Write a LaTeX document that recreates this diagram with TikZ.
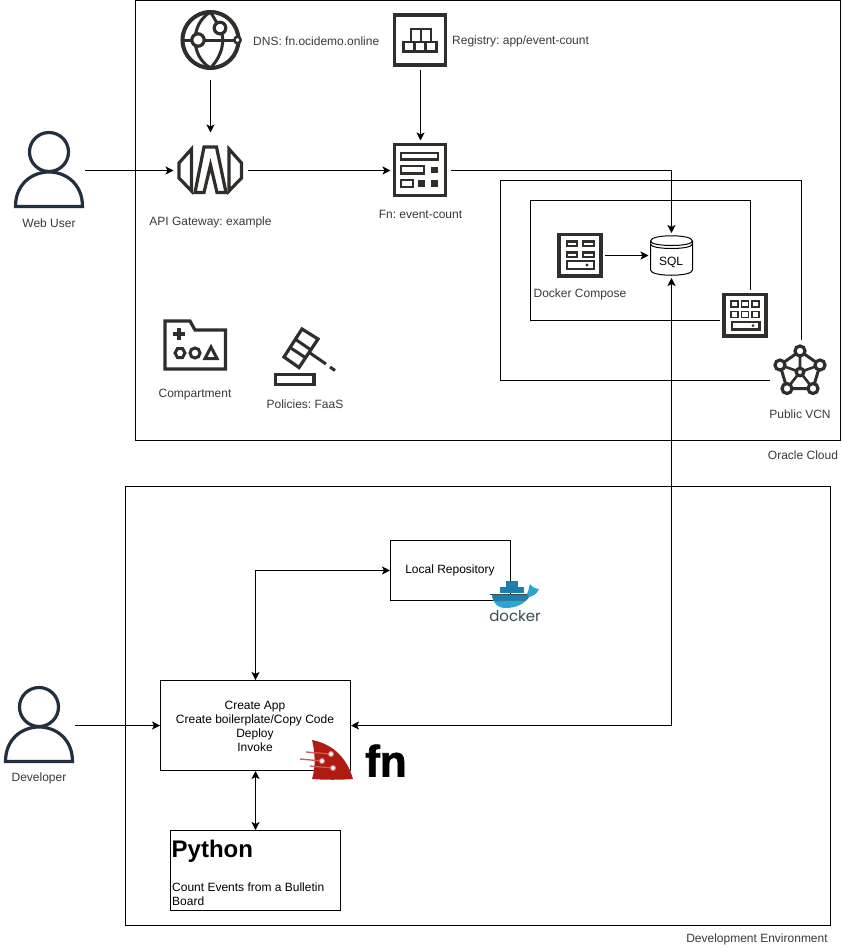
\documentclass[tikz,border=0pt]{standalone}
\usepackage{fontspec}
\setmainfont{Liberation Sans}
\newfontfamily\dockerfont{Poppins}
\newfontfamily\fnfont[FakeBold=1.6]{Liberation Sans Bold}
\AtBeginDocument{\frenchspacing}
\usetikzlibrary{arrows.meta}
\definecolor{ink}{HTML}{312D2A}
\definecolor{usr}{HTML}{232F3E}
\definecolor{lab}{HTML}{3A3A3A}
\definecolor{fnred}{HTML}{AE1B12}
\definecolor{fnpink}{HTML}{D9706A}
\definecolor{dk}{HTML}{1F7FA8}
\definecolor{dkl}{HTML}{2FA3D1}
\definecolor{dkd}{HTML}{394D54}
\tikzset{
  box/.style={draw=black,line width=1pt,fill=white,inner sep=0pt},
  frame/.style={draw=black,line width=1pt},
  lbl/.style={font=\fontsize{12}{14}\selectfont,text=lab,inner sep=0pt},
  txt/.style={font=\fontsize{12}{14}\selectfont,text=black,inner sep=0pt},
  conn/.style={draw=black,line width=1pt,-{Stealth[length=8pt,width=8pt,inset=2pt]}},
  conn2/.style={draw=black,line width=1pt,{Stealth[length=8pt,width=8pt,inset=2pt]}-{Stealth[length=8pt,width=8pt,inset=2pt]}},
  hit/.style={inner sep=0pt,outer sep=0pt,minimum width=#1},
  ico/.style={draw=ink,line width=3.2pt,fill=white,miter limit=10},
  thin/.style={draw=ink,line width=2.6pt},
  sol/.style={fill=ink,draw=none},
}
\begin{document}
\begin{tikzpicture}[x=1pt,y=-1pt]
\useasboundingbox (0,0) rectangle (841,948);
\fill[white] (0,0) rectangle (841,948);
% frames
\draw[frame] (135.5,0.5) rectangle (840.5,440.5);
\draw[frame] (125.5,486.5) rectangle (830.5,925.5);
% anchor nodes
\node[hit=72pt,minimum height=76pt] (webuser) at (49,170.5) {};
\node[hit=72pt,minimum height=76pt] (developer) at (39,725.5) {};
\node[hit=62pt,minimum height=80pt] (dns) at (210.5,40) {};
\node[hit=74pt,minimum height=76pt] (gateway) at (210.5,170.5) {};
\node[hit=60pt,minimum height=60pt] (registry) at (420.5,40) {};
\node[hit=60pt,minimum height=60pt] (fnc) at (420.5,170.5) {};
\node[hit=50pt,minimum height=50pt] (compose) at (580,255.5) {};
\node[hit=46pt,minimum height=45pt] (sqlhit) at (671.5,255.5) {};
\coordinate (vcnA) at (770,380.5);
\coordinate (vcnB) at (801,340);
\coordinate (subA) at (720,320.5);
\coordinate (subB) at (750.5,290);
% VCN and subnet outlines
\draw[frame] (vcnA) -- (500.5,380.5) -- (500.5,180.5) -- (801,180.5) -- (vcnB);
\draw[frame] (subA) -- (530.5,320.5) -- (530.5,200.5) -- (750.5,200.5) -- (subB);
% boxes
\node[box,minimum width=120pt,minimum height=60pt] (repo) at (450.5,570.5) {};
\node[txt] at (450,570.5) {Local Repository};
\node[box,minimum width=190pt,minimum height=90pt] (create) at (255.5,725.5) {};
\node[txt,align=center] at (255,726) {Create App\\Create boilerplate/Copy Code\\Deploy\\Invoke};
\node[box,minimum width=170pt,minimum height=80pt] (python) at (255.5,870.5) {};
\node[anchor=west,inner sep=0pt,font=\fontsize{24}{28}\selectfont\bfseries] at (171.5,851) {Python};
\node[txt,anchor=north west,align=left] at (172,882.5) {Count Events from a Bulletin\\Board};
% SQL cylinder
\draw[draw=black,line width=1pt,fill=white] (650.5,241) -- (650.5,270) .. controls (650.5,277) and (692.5,277) .. (692.5,270) -- (692.5,241) .. controls (692.5,234) and (650.5,234) .. (650.5,241) -- cycle;
\draw[draw=black,line width=1pt] (650.5,241) .. controls (650.5,247) and (692.5,247) .. (692.5,241);
\draw[draw=black,line width=1pt] (650.5,244) .. controls (650.5,250) and (692.5,250) .. (692.5,244);
\node[txt] (sql) at (671,262) {SQL};
% connectors
\draw[conn] (webuser.east) -- (gateway.west);
\draw[conn] (dns.south) -- (gateway.north);
\draw[conn] (gateway.east) -- (fnc.west);
\draw[conn] (registry.south) -- (fnc.north);
\draw[conn] (fnc.east) -| (sqlhit.north);
\draw[conn] (compose.east) -- (sqlhit.west);
\draw[conn2] (create.east) -| (sqlhit.south);
\draw[conn] (developer.east) -- (create.west);
\draw[conn2] (create.north) |- (repo.west);
\draw[conn2] (create.south) -- (python.north);
% users
\foreach \cx/\cy in {49/132,39/687}{
 \begin{scope}[shift={(\cx,\cy)}]
  \draw[draw=usr,line width=3.2pt,fill=white] (0,20) circle (19.5);
  \draw[draw=usr,line width=3.2pt] (-33.5,74.5) .. controls (-33.5,52) and (-17,40) .. (0,40) .. controls (17,40) and (33.5,52) .. (33.5,74.5) -- cycle;
 \end{scope}
}
% DNS globe
\draw[draw=ink,line width=4pt] (210.5,40) circle (28);
\draw[draw=ink,line width=3pt] (210.5,12) .. controls (190,24) and (190,56) .. (210.5,68);
\draw[draw=ink,line width=3pt] (210.5,12) -- (220,28) .. controls (226,40) and (222,56) .. (210.5,68);
\draw[draw=ink,line width=3pt] (183,40) -- (237,40);
\draw[ico] (198,40) circle (6.2);
\draw[ico] (220,28) circle (5.8);
\draw[ico,line width=2.4pt] (237.5,40) circle (3.2);
% API gateway
\draw[ico] (191.5,149) -- (179,163) -- (179,178) -- (191.5,191) -- cycle;
\draw[ico] (229,149) -- (241.5,163) -- (241.5,178) -- (229,191) -- cycle;
\draw[ico] (204,147) -- (216.5,147) -- (226,192.5) -- (217,192.5) -- (210.5,165) -- (204,192.5) -- (195,192.5) -- cycle;
% Registry
\draw[ico] (394.5,15) rectangle (445.5,65);
\draw[ico,line width=2.6pt] (403.5,42) rectangle (436.5,51.5);
\draw[ico,line width=2.6pt] (411,29) rectangle (431,42);
\draw[thin,line width=2.2pt] (421,29) -- (421,42) (414.5,42) -- (414.5,51.5) (425.5,42) -- (425.5,51.5);
% Fn
\draw[ico] (394.5,144.5) rectangle (445.5,195.5);
\draw[ico,line width=2.6pt] (401,153) rectangle (438,159.5);
\draw[ico,line width=2.6pt] (401,166) rectangle (424,173.5);
\fill[sol] (431,167) rectangle (438,173);
\draw[ico,line width=2.6pt] (401,180) rectangle (413,187);
\fill[sol] (418,180) rectangle (424.5,187);
\fill[sol] (431,180) rectangle (438,187);
% Docker Compose server
\draw[ico] (559,234.5) rectangle (601,276);
\foreach \yy in {240,251}{\fill[sol] (566,\yy) rectangle (578,\yy+7); \fill[sol] (582,\yy) rectangle (595,\yy+7);
 \fill[white] (568,\yy+2.5) rectangle (576,\yy+4.5); \fill[white] (584,\yy+2.5) rectangle (593,\yy+4.5);}
\draw[ico,line width=2.6pt] (567,261) rectangle (594,269);
\fill[sol] (587,265) circle (1.6);
% Compute server
\draw[ico] (724,294.5) rectangle (766,336);
\foreach \yy in {301,311.5}{\foreach \xx in {731,741.5,752}{\draw[thin,line width=1.8pt] (\xx,\yy) rectangle (\xx+7,\yy+6);}}
\draw[ico,line width=2.4pt] (732,322) rectangle (759.5,329.5);
\fill[sol] (753,325.7) circle (1.5);
% VCN
\draw[thin,line width=3pt] (800,351) -- (820,365) -- (813,388.5) -- (787,388.5) -- (780,365) -- cycle;
\draw[thin,line width=2.6pt] (800,372) -- (800,351) (800,372) -- (820,365) (800,372) -- (813,388.5) (800,372) -- (787,388.5) (800,372) -- (780,365);
\foreach \p in {(800,351),(820,365),(813,388.5),(787,388.5),(780,365)}{\draw[ico] \p circle (5);}
\draw[ico] (800,372) circle (3.8);
% Compartment
\draw[ico] (165,321) -- (190,321) -- (195,330) -- (225.5,330) -- (225.5,369) -- (165,369) -- cycle;
\fill[sol] (177,328) rectangle (181,340);
\fill[sol] (173,332) rectangle (185,336);
\draw[ico,line width=3pt] (175,353) -- (177.5,348.5) -- (182.5,348.5) -- (185,353) -- (182.5,357.5) -- (177.5,357.5) -- cycle;
\draw[ico,line width=3pt] (195,353) circle (5);
\draw[ico,line width=3pt] (211,347) -- (217,358.5) -- (205,358.5) -- cycle;
% Policies
\draw[ico] (302,329) -- (318,339) -- (299,367.5) -- (284,357) -- cycle;
\draw[thin,line width=3pt] (295,339) -- (311,350) (290,347.5) -- (306,358);
\draw[thin,line width=3pt] (310,353) -- (326,364);
\draw[thin,line width=3pt] (330,367) -- (335,370.5);
\draw[ico] (275.5,374.5) rectangle (314,384.5);
% Fn logo
\fill[fnred] (312,740) .. controls (333,744) and (347,758) .. (353,779) .. controls (340,780) and (325,780) .. (312,779) .. controls (316,767) and (315,752) .. (312,740) -- cycle;
\draw[fnred!70!white,line width=1.3pt] (306,752) -- (331,754);
\draw[fnred!70!white,line width=1.3pt] (300,759) -- (322,761);
\draw[fnred!70!white,line width=1.3pt] (310,766) -- (333,768);
\foreach \p in {(331,754),(322,761),(333,768)}{\draw[fill=white,draw=fnpink,line width=0.9pt] \p circle (2.6);}
\node[anchor=base west,inner sep=0pt,font=\fnfont\fontsize{44}{48}\selectfont,text=black] at (365,776.5) {fn};
% Docker logo
\foreach \xx/\yy in {500/587,506/587,512/587,518/587,506/581,512/581}{\fill[dk] (\xx+0.3,\yy+0.3) rectangle (\xx+5.7,\yy+5.7);}
\fill[dkl] (492,594) -- (527,594) .. controls (529,590) and (529,586) .. (530,584) .. controls (533,588) and (537,589) .. (539,589) .. controls (537,594) and (533,596) .. (529,597) .. controls (525,604) and (515,608) .. (506,608) .. controls (497,608) and (492,602) .. (492,594) -- cycle;
\fill[dk] (492,594) -- (527,594) -- (529,597) .. controls (528,599) and (527,600) .. (525,601) .. controls (515,600) and (500,602) .. (494,601) .. controls (493,599) and (492,597) .. (492,594) -- cycle;
\fill[dkd] (490,594) rectangle (527,595);
\node[anchor=base,inner sep=0pt,font=\dockerfont\fontsize{15}{18}\selectfont,text=dkd] at (515,621.5) {docker};
% labels
\node[lbl,anchor=west] at (253,41.5) {DNS: fn.ocidemo.online};
\node[lbl,anchor=west] at (452,41.5) {Registry: app/event-count};
\node[lbl] at (210.5,222) {API Gateway: example};
\node[lbl] at (420.5,214.5) {Fn: event-count};
\node[lbl] at (580,294.5) {Docker Compose};
\node[lbl] at (800,414.5) {Public VCN};
\node[lbl] at (195,394.5) {Compartment};
\node[lbl] at (305,404.5) {Policies: FaaS};
\node[lbl] at (803,455) {Oracle Cloud};
\node[lbl] at (757,939.5) {Development Environment};
\node[lbl] at (49,223.5) {Web User};
\node[lbl] at (39,778.5) {Developer};
\end{tikzpicture}
\end{document}
